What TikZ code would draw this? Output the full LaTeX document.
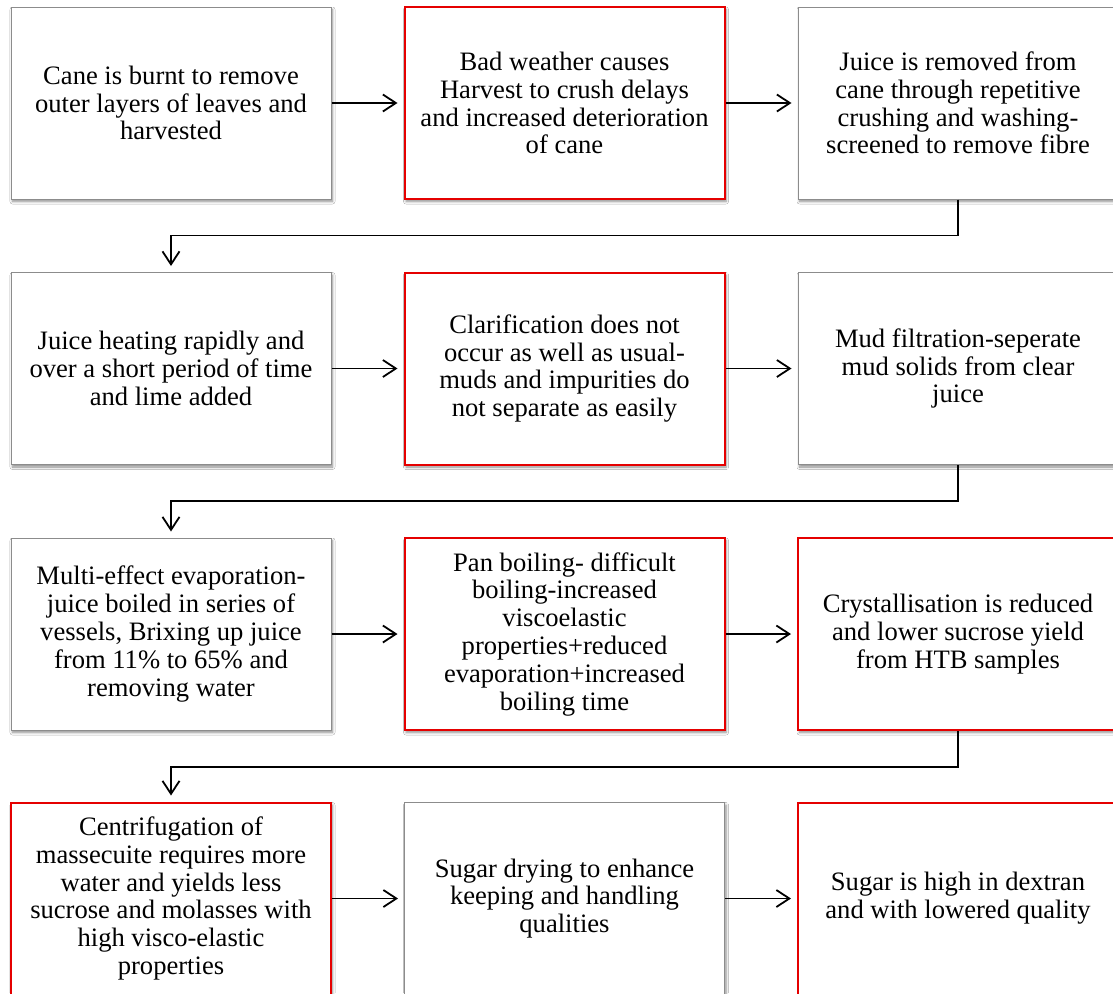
\documentclass[tikz,border=0pt]{standalone}
\usepackage{fontspec}
\setmainfont{Liberation Serif}
\usetikzlibrary{arrows.meta,shadows.blur}
\begin{document}
\begin{tikzpicture}[x=1pt,y=-1pt,
  box/.style={rectangle, minimum width=320pt, minimum height=192pt, align=center, fill=white, inner sep=0pt,
    font=\fontsize{26.6}{27.8}\selectfont,
    blur shadow={shadow xshift=1.5pt, shadow yshift=-2.5pt, shadow blur steps=6, shadow blur radius=2.5pt, shadow opacity=45}},
  greybox/.style={box, draw=black!45, line width=1pt},
  redbox/.style={box, draw=red!90!black, line width=2pt},
  arr/.style={line width=1.8pt, -{Straight Barb[length=13pt,width=17pt,line width=1.8pt]}, shorten >=6pt}]
\useasboundingbox (0,0) rectangle (1113,993);
\clip (0,0) rectangle (1113,993);
\fill[white] (0,0) rectangle (1113,993);

\node[greybox] (c11) at (171,103) {Cane is burnt to remove\\outer layers of leaves and\\harvested};
\node[redbox]  (c12) at (564.5,103) {Bad weather causes\\Harvest to crush delays\\and increased deterioration\\of cane};
\node[greybox] (c13) at (958,103) {Juice is removed from\\cane through repetitive\\crushing and washing-\\screened to remove fibre};

\node[greybox] (c21) at (171,368.5) {Juice heating rapidly and\\over a short period of time\\and lime added};
\node[redbox]  (c22) at (564.5,368.5) {Clarification does not\\occur as well as usual-\\muds and impurities do\\not separate as easily};
\node[greybox] (c23) at (958,368.5) {Mud filtration-seperate\\mud solids from clear\\juice};

\node[greybox] (c31) at (171,634) {Multi-effect evaporation-\\juice boiled in series of\\vessels, Brixing up juice\\from 11\% to 65\% and\\removing water};
\node[redbox]  (c32) at (564.5,634) {Pan boiling- difficult\\boiling-increased\\viscoelastic\\properties+reduced\\evaporation+increased\\boiling time};
\node[redbox]  (c33) at (958,634) {Crystallisation is reduced\\and lower sucrose yield\\from HTB samples};

\node[redbox]  (c41) at (171,898.5) {Centrifugation of\\massecuite requires more\\water and yields less\\sucrose and molasses with\\high visco-elastic\\properties};
\node[greybox] (c42) at (564.5,898.5) {Sugar drying to enhance\\keeping and handling\\qualities};
\node[redbox]  (c43) at (958,898.5) {Sugar is high in dextran\\and with lowered quality};

\draw[arr] (c11) -- (c12);
\draw[arr] (c12) -- (c13);
\draw[arr] (c21) -- (c22);
\draw[arr] (c22) -- (c23);
\draw[arr] (c31) -- (c32);
\draw[arr] (c32) -- (c33);
\draw[arr] (c41) -- (c42);
\draw[arr] (c42) -- (c43);

\draw[arr] (c13.south) -- ++(0,36) -| (c21.north);
\draw[arr] (c23.south) -- ++(0,36) -| (c31.north);
\draw[arr] (c33.south) -- ++(0,36) -| (c41.north);
\end{tikzpicture}
\end{document}
